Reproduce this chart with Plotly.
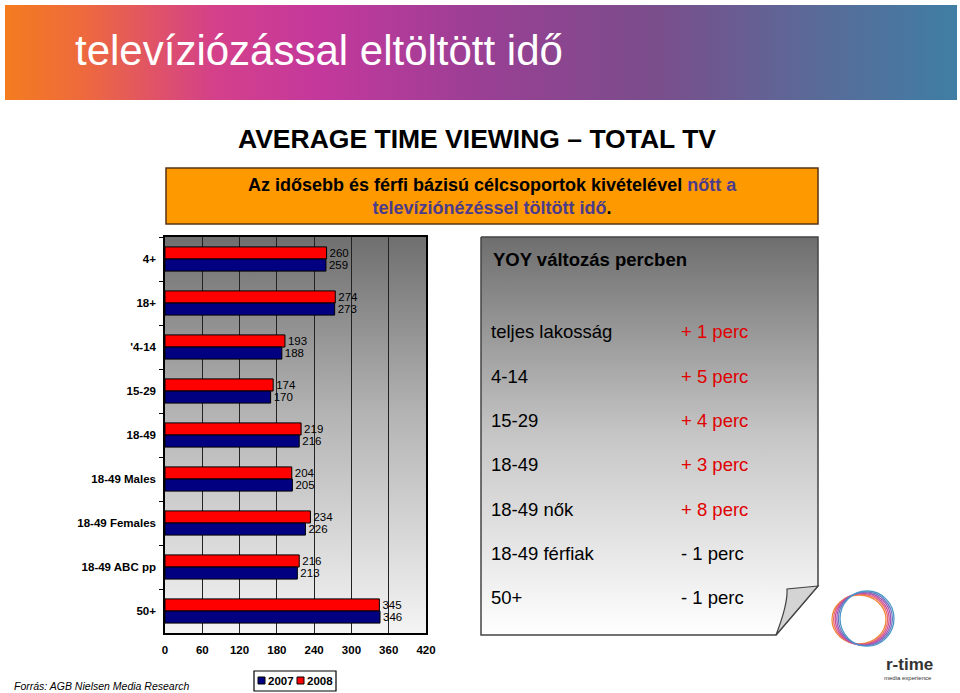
import plotly.graph_objects as go

categories = ['4+', '18+', "'4-14", '15-29', '18-49', '18-49 Males',
              '18-49 Females', '18-49 ABC pp', '50+']
values_2007 = [259, 273, 188, 170, 216, 205, 226, 213, 346]
values_2008 = [260, 274, 193, 174, 219, 204, 234, 216, 345]
x_ticks = [0, 60, 120, 180, 240, 300, 360, 420]

yoy_groups = ['teljes lakosság', '4-14', '15-29', '18-49', '18-49 nők',
              '18-49 férfiak', '50+']
yoy_changes = ['+ 1 perc', '+ 5 perc', '+ 4 perc', '+ 3 perc', '+ 8 perc',
               '- 1 perc', '- 1 perc']

W, H = 960, 693
FONT = 'Liberation Sans, Arial, sans-serif'

fig = go.Figure()

# decoration layer (pixel coordinates on x/y, drawn below the bar subplot)
# header banner
fig.add_trace(go.Scatter(
    x=[5, 957, 957, 5, 5], y=[5, 5, 100, 100, 5], mode='lines',
    fill='toself', line=dict(width=0), hoverinfo='skip', showlegend=False,
    fillcolor='#c8399a',
    fillgradient=dict(type='horizontal', colorscale=[
        [0, '#f47c1f'], [0.08, '#ee6a3c'], [0.22, '#d4408a'], [0.33, '#c4389c'],
        [0.5, '#9a3f94'], [0.68, '#7a4d8b'], [0.85, '#5a6a98'], [1, '#3f7ea4']]),
))
# chart background (colorscale 0 = bottom)
fig.add_trace(go.Scatter(
    x=[165, 426, 426, 165, 165], y=[237, 237, 633, 633, 237], mode='lines',
    fill='toself', line=dict(width=0), hoverinfo='skip', showlegend=False,
    fillcolor='#aaaaaa',
    fillgradient=dict(type='vertical', colorscale=[
        [0, '#f4f4f4'], [0.55, '#b4b4b4'], [1, '#6f6f6f']]),
))
# YOY panel with page curl
fig.add_trace(go.Scatter(
    x=[481, 818, 818, 776, 481, 481], y=[237, 237, 586, 635, 635, 237],
    mode='lines', fill='toself', line=dict(color='#444444', width=1.5),
    hoverinfo='skip', showlegend=False, fillcolor='#bbbbbb',
    fillgradient=dict(type='vertical', colorscale=[
        [0, '#ffffff'], [0.5, '#c6c6c6'], [1, '#6e6e6e']]),
))

# bars (x2/y2 subplot, drawn on top)
fig.add_trace(go.Bar(
    name='2008', y=categories, x=values_2008, orientation='h',
    marker=dict(color='#ff0000', line=dict(color='#000000', width=1)),
    text=values_2008, textposition='outside', cliponaxis=False,
    textfont=dict(family=FONT, size=11.5, color='#000000'),
    xaxis='x2', yaxis='y2', showlegend=False,
))
fig.add_trace(go.Bar(
    name='2007', y=categories, x=values_2007, orientation='h',
    marker=dict(color='#000080', line=dict(color='#000000', width=1)),
    text=values_2007, textposition='outside', cliponaxis=False,
    textfont=dict(family=FONT, size=11.5, color='#000000'),
    xaxis='x2', yaxis='y2', showlegend=False,
))

shapes = [
    # orange message box
    dict(type='rect', xref='x', yref='y', x0=166, x1=818, y0=168, y1=224,
         fillcolor='#ff9900', line=dict(color='#553311', width=1.5), layer='below'),
    # page curl
    dict(type='path', xref='x', yref='y',
         path='M 818 586 L 787 589 Q 788 604 776 635 Z',
         fillcolor='#d4d4d4', line=dict(color='#444444', width=1.2)),
    # legend box
    dict(type='rect', xref='x', yref='y', x0=254, x1=336, y0=671, y1=691,
         fillcolor='#ffffff', line=dict(color='#000000', width=1.2)),
    dict(type='rect', xref='x', yref='y', x0=258, x1=265, y0=677, y1=684,
         fillcolor='#000080', line=dict(color='#000000', width=1)),
    dict(type='rect', xref='x', yref='y', x0=297, x1=304, y0=677, y1=684,
         fillcolor='#ff0000', line=dict(color='#000000', width=1)),
]

# logo ring (decorative)
ring_cols = ['#f08a3a', '#e86a6a', '#d0509c', '#a058b4', '#6a78c0', '#4a98c8']
for i, c in enumerate(ring_cols):
    dx = (i - 2.5) * 1.6
    shapes.append(dict(type='circle', xref='x', yref='y',
                       x0=836 + dx, x1=890 + dx, y0=593 - dx * 0.5, y1=645 + dx * 0.3,
                       line=dict(color=c, width=1.3)))

annotations = [
    dict(x=73, y=50, text='televíziózással eltöltött idő', showarrow=False,
         xanchor='left', yanchor='middle', font=dict(family=FONT, size=42, color='#ffffff')),
    dict(x=477, y=139, text='<b>AVERAGE TIME VIEWING – TOTAL TV</b>', showarrow=False,
         xanchor='center', yanchor='middle', font=dict(family=FONT, size=26.5, color='#000000')),
    dict(x=492, y=196,
         text='<b>Az idősebb és férfi bázisú célcsoportok kivételével '
              '<span style="color:#4b3c8c">nőtt a</span><br>'
              '<span style="color:#4b3c8c">televíziónézéssel töltött idő</span>.</b>',
         showarrow=False, xanchor='center', yanchor='middle', align='center',
         font=dict(family=FONT, size=18, color='#000000')),
    dict(x=491, y=259, text='<b>YOY változás percben</b>', showarrow=False,
         xanchor='left', yanchor='middle', font=dict(family=FONT, size=18.5, color='#000000')),
    dict(x=12, y=686, text='<i>Forrás: AGB Nielsen Media Research</i>', showarrow=False,
         xanchor='left', yanchor='middle', font=dict(family=FONT, size=10.5, color='#000000')),
    dict(x=281, y=681, text='<b>2007</b>', showarrow=False, xanchor='center',
         yanchor='middle', font=dict(family=FONT, size=11.5, color='#000000')),
    dict(x=320, y=681, text='<b>2008</b>', showarrow=False, xanchor='center',
         yanchor='middle', font=dict(family=FONT, size=11.5, color='#000000')),
    dict(x=935, y=664, text='<b>r-time</b>', showarrow=False, xanchor='right',
         yanchor='middle', font=dict(family=FONT, size=17, color='#333333')),
    dict(x=934, y=678, text='media experience', showarrow=False, xanchor='right',
         yanchor='middle', font=dict(family=FONT, size=6, color='#333333')),
]
row_y = [331, 376, 420, 464, 509, 553, 597]
for i, (g, ch) in enumerate(zip(yoy_groups, yoy_changes)):
    col = '#e00000' if ch.startswith('+') else '#000000'
    annotations.append(dict(x=489, y=row_y[i], text=g, showarrow=False, xanchor='left',
                            yanchor='middle', font=dict(family=FONT, size=18.5, color='#000000')))
    annotations.append(dict(x=679, y=row_y[i], text=ch, showarrow=False, xanchor='left',
                            yanchor='middle', font=dict(family=FONT, size=18.5, color=col)))

fig.update_layout(
    width=W, height=H,
    margin=dict(l=0, r=0, t=0, b=0, autoexpand=False),
    paper_bgcolor='#ffffff', plot_bgcolor='rgba(0,0,0,0)',
    barmode='group', bargap=0.45, bargroupgap=0,
    showlegend=False,
    xaxis=dict(range=[0, W], domain=[0, 1], visible=False, fixedrange=True),
    yaxis=dict(range=[H, 0], domain=[0, 1], visible=False, fixedrange=True),
    xaxis2=dict(domain=[165 / W, 426 / W], anchor='y2', range=[0, 420],
                tickvals=x_ticks, showgrid=True, gridcolor='#222222', gridwidth=1,
                showline=True, linecolor='#000000', linewidth=1.5, mirror=True,
                ticks='', zeroline=False, automargin=False, ticklabelstandoff=5,
                tickfont=dict(family=FONT, size=11.5, color='#000000', weight='bold')),
    yaxis2=dict(domain=[1 - 633 / H, 1 - 237 / H], anchor='x2',
                categoryorder='array', categoryarray=categories, autorange='reversed',
                showline=True, linecolor='#000000', linewidth=1.5, mirror=True,
                ticks='outside', tickson='boundaries', ticklen=4, tickcolor='#000000',
                showgrid=False, automargin=False, ticklabelstandoff=5,
                tickfont=dict(family=FONT, size=11.5, color='#000000', weight='bold')),
    shapes=shapes,
    annotations=annotations,
)

fig.write_html('out.html', config={'displayModeBar': False},
               post_script="document.body.style.margin='0';")
